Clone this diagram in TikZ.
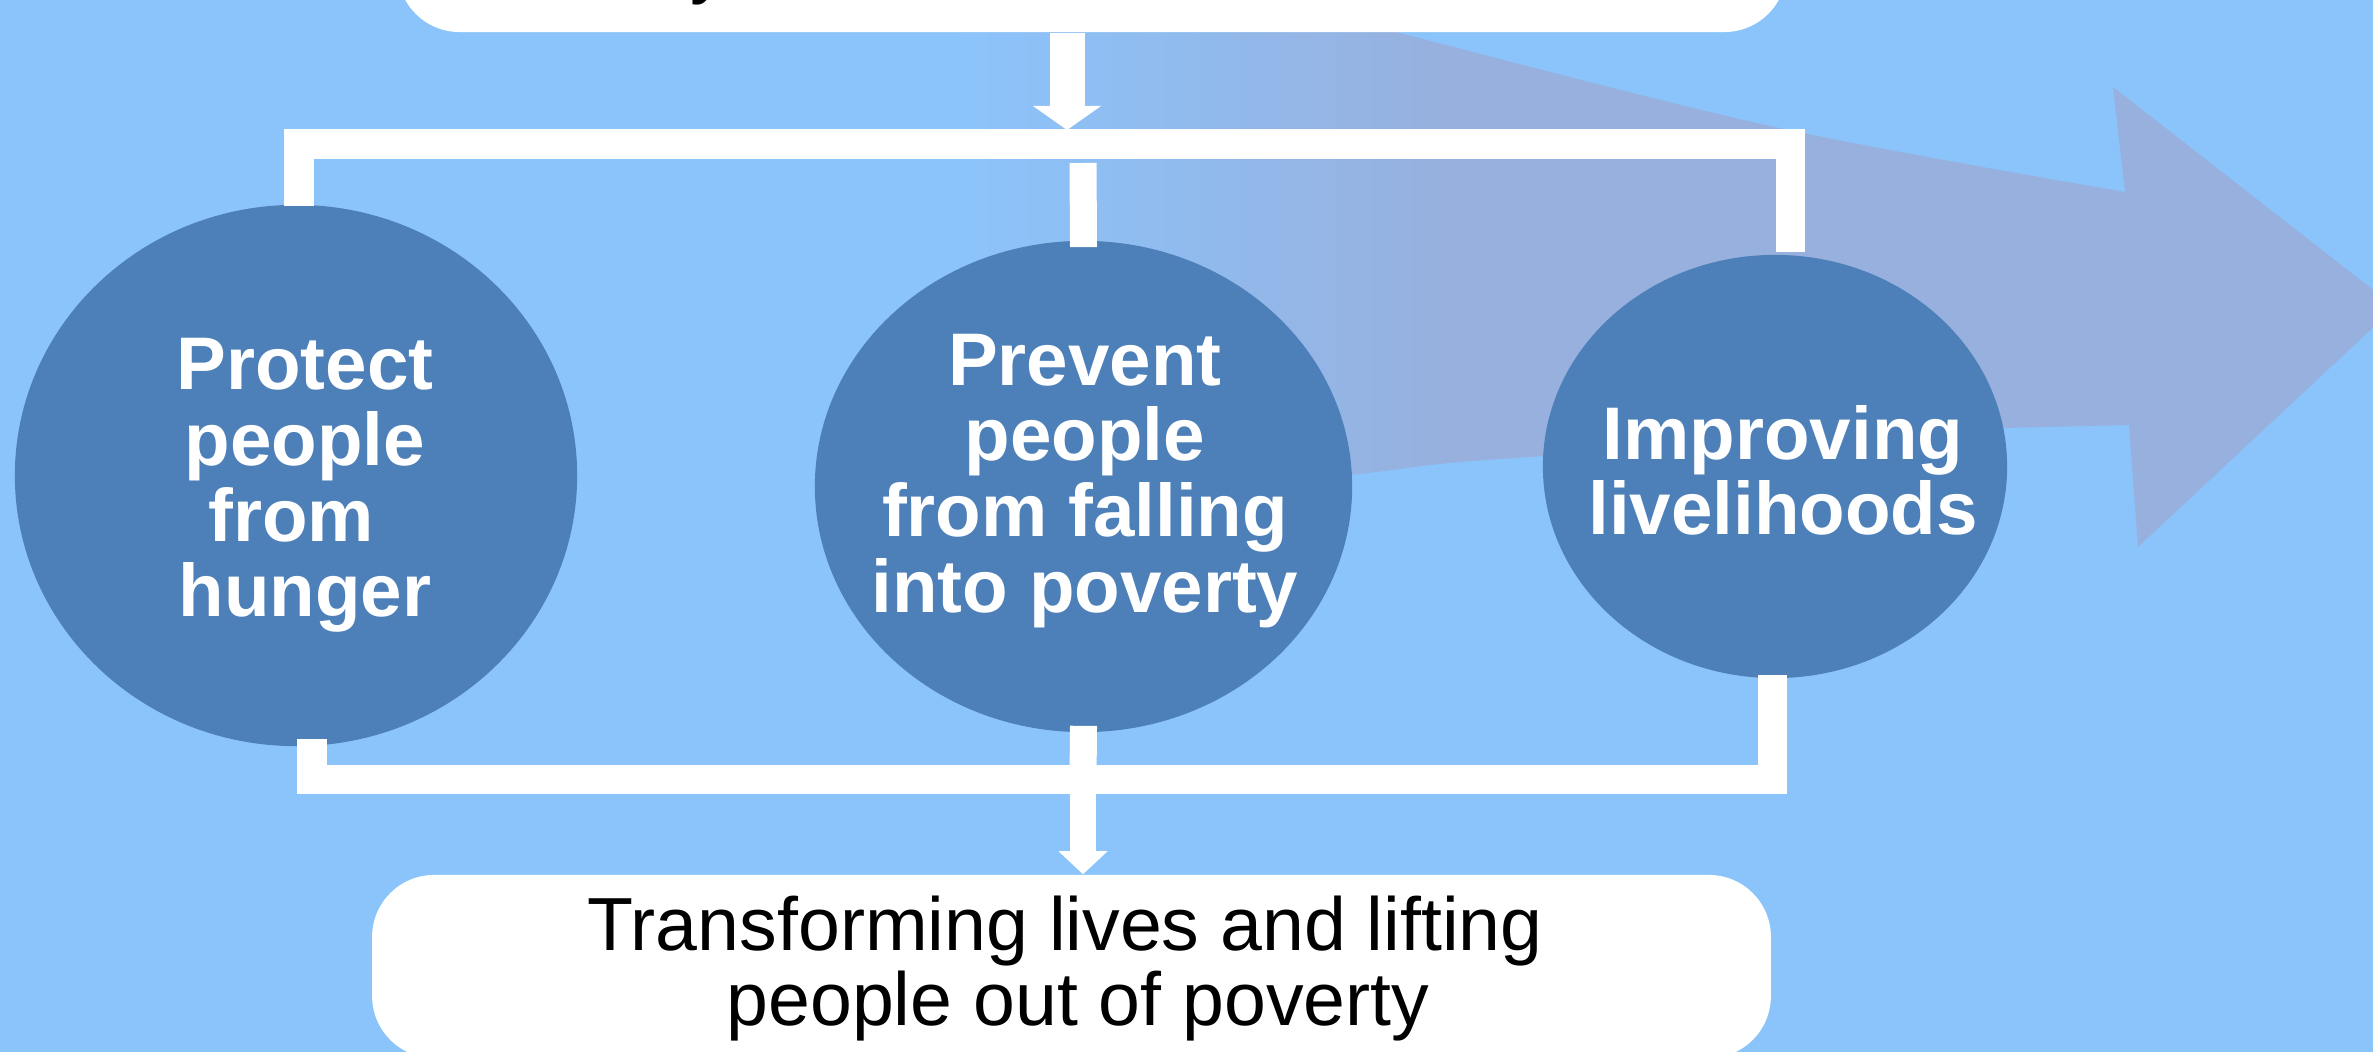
\documentclass[tikz,border=0pt]{standalone}
\usepackage{fontspec}
\setmainfont{Liberation Sans}
\usetikzlibrary{arrows.meta,shapes.geometric,calc}
\definecolor{bgc}{RGB}{139,196,251}
\definecolor{arrc}{RGB}{151,176,222}
\definecolor{ellc}{RGB}{77,128,184}
\pgfdeclarehorizontalshading{bigarrowshade}{100bp}{color(0bp)=(bgc); color(26.7bp)=(bgc); color(43.4bp)=(arrc); color(100bp)=(arrc)}
\begin{document}
\begin{tikzpicture}[x=0.01cm,y=-0.01cm,
  ell/.style={ellipse,fill=ellc,draw=none,inner sep=0pt},
  lbl/.style={text=white,font=\fontsize{21.2}{21.5}\selectfont\bfseries,align=center,inner sep=0pt},
  btxt/.style={text=black,font=\fontsize{21.4}{21.1}\selectfont,align=center,inner sep=0pt},
  wbox/.style={rectangle,fill=white,draw=none,rounded corners=0.62cm,inner sep=0pt},
  conn/.style={draw=white,line width=0.29cm},
  stub/.style={draw=white,line width=0.27cm}
]
\useasboundingbox (0,0) rectangle (2373,1052);
\fill[bgc] (0,0) rectangle (2373,1052);
% big background arrow
\shade[shading=bigarrowshade] plot[smooth] coordinates {(900,-100) (1396,32) (1779,128) (2125,192)}
  -- (2113,87) -- (2395,307) -- (2138,547) -- (2129,425)
  -- plot[smooth] coordinates {(2000,428) (1500,459) (1350,475) (900,525)} -- cycle;
% boxes
\node[wbox,minimum width=13.88cm,minimum height=1.6cm] (T) at (1092,-48) {};
\node[font=\fontsize{21.4}{21.4}\selectfont,anchor=base west,inner sep=0pt] (Ty) at (690,-10) {y};
\node[wbox,minimum width=13.98cm,minimum height=1.83cm] (B) at (1071.5,966.5) {};
\node[btxt] (Bt) at (1078,968.5) {Transforming lives and lifting\rule{0.34em}{0pt}\\people out of poverty};
% ellipses
\node[ell,minimum width=5.62cm,minimum height=5.41cm] (L) at (296,475.5) {};
\node[ell,minimum width=5.37cm,minimum height=4.91cm] (M) at (1083.5,486.5) {};
\node[ell,minimum width=4.64cm,minimum height=4.23cm] (R) at (1775,466.5) {};
\node[lbl] (Lt) at (305,485.6) {Protect\\people\\from\rule{0.375em}{0pt}\\hunger};
\node[lbl] (Mt) at (1085,480.7) {Prevent\\people\\from falling\\into poverty};
\node[lbl] (Rt) at (1783,470.3) {Improving\\livelihoods};
% connectors
\coordinate (tx) at (1067,0);
\coordinate (tend) at (1067,130);
\coordinate (tbar) at (1083,144);
\coordinate (bbar) at (1083,779.5);
\draw[white,line width=0.35cm,-{Triangle[width=0.68cm,length=0.24cm,line width=0pt]}] (T.south -| tx) -- (tend);
\draw[conn] ($(L.north)+(3,2)$) |- (tbar) -| ($(R.north)+(15,-2.5)$);
\draw[stub] ($(M.north)+(0,7)$) -- ($(tbar)+(0,19)$);
\draw[conn] ($(L.south)+(16,-8)$) |- (bbar) -| ($(R.south)+(-3,-4)$);
\draw[stub] ($(M.south)+(0,-7)$) -- (bbar);
\draw[white,line width=0.26cm,-{Triangle[width=0.49cm,length=0.23cm,line width=0pt]}] ($(bbar)+(0,14)$) -- (B.north -| bbar);
\end{tikzpicture}
\end{document}
